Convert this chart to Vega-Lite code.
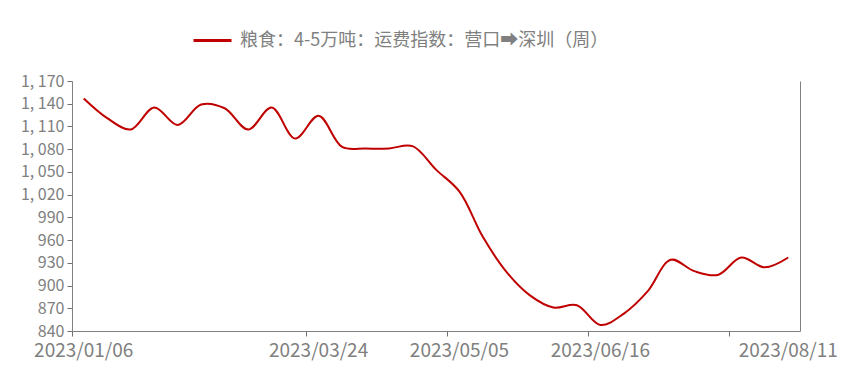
{
  "$schema": "https://vega.github.io/schema/vega-lite/v6.json",
  "width": 728,
  "height": 250,
  "autosize": {"type": "none"},
  "padding": {"left": 72, "top": 81, "right": 45, "bottom": 38},
  "background": "white",
  "config": {"view": {"stroke": null}, "font": "Noto Sans CJK SC"},
  "data": {"values": [
    {"date": "2023/01/06", "value": 1147, "series": "粮食：4-5万吨：运费指数：营口➡深圳（周）"},
    {"date": "2023/01/13", "value": 1121, "series": "粮食：4-5万吨：运费指数：营口➡深圳（周）"},
    {"date": "2023/01/20", "value": 1106, "series": "粮食：4-5万吨：运费指数：营口➡深圳（周）"},
    {"date": "2023/02/03", "value": 1135, "series": "粮食：4-5万吨：运费指数：营口➡深圳（周）"},
    {"date": "2023/02/10", "value": 1112, "series": "粮食：4-5万吨：运费指数：营口➡深圳（周）"},
    {"date": "2023/02/17", "value": 1139, "series": "粮食：4-5万吨：运费指数：营口➡深圳（周）"},
    {"date": "2023/02/24", "value": 1134, "series": "粮食：4-5万吨：运费指数：营口➡深圳（周）"},
    {"date": "2023/03/03", "value": 1106, "series": "粮食：4-5万吨：运费指数：营口➡深圳（周）"},
    {"date": "2023/03/10", "value": 1135, "series": "粮食：4-5万吨：运费指数：营口➡深圳（周）"},
    {"date": "2023/03/17", "value": 1094, "series": "粮食：4-5万吨：运费指数：营口➡深圳（周）"},
    {"date": "2023/03/24", "value": 1124, "series": "粮食：4-5万吨：运费指数：营口➡深圳（周）"},
    {"date": "2023/03/31", "value": 1083, "series": "粮食：4-5万吨：运费指数：营口➡深圳（周）"},
    {"date": "2023/04/07", "value": 1081, "series": "粮食：4-5万吨：运费指数：营口➡深圳（周）"},
    {"date": "2023/04/14", "value": 1081, "series": "粮食：4-5万吨：运费指数：营口➡深圳（周）"},
    {"date": "2023/04/21", "value": 1084, "series": "粮食：4-5万吨：运费指数：营口➡深圳（周）"},
    {"date": "2023/04/28", "value": 1053, "series": "粮食：4-5万吨：运费指数：营口➡深圳（周）"},
    {"date": "2023/05/05", "value": 1024, "series": "粮食：4-5万吨：运费指数：营口➡深圳（周）"},
    {"date": "2023/05/12", "value": 964, "series": "粮食：4-5万吨：运费指数：营口➡深圳（周）"},
    {"date": "2023/05/19", "value": 918, "series": "粮食：4-5万吨：运费指数：营口➡深圳（周）"},
    {"date": "2023/05/26", "value": 887, "series": "粮食：4-5万吨：运费指数：营口➡深圳（周）"},
    {"date": "2023/06/02", "value": 871, "series": "粮食：4-5万吨：运费指数：营口➡深圳（周）"},
    {"date": "2023/06/09", "value": 874, "series": "粮食：4-5万吨：运费指数：营口➡深圳（周）"},
    {"date": "2023/06/16", "value": 848, "series": "粮食：4-5万吨：运费指数：营口➡深圳（周）"},
    {"date": "2023/06/23", "value": 863, "series": "粮食：4-5万吨：运费指数：营口➡深圳（周）"},
    {"date": "2023/06/30", "value": 892, "series": "粮食：4-5万吨：运费指数：营口➡深圳（周）"},
    {"date": "2023/07/07", "value": 934, "series": "粮食：4-5万吨：运费指数：营口➡深圳（周）"},
    {"date": "2023/07/14", "value": 919, "series": "粮食：4-5万吨：运费指数：营口➡深圳（周）"},
    {"date": "2023/07/21", "value": 914, "series": "粮食：4-5万吨：运费指数：营口➡深圳（周）"},
    {"date": "2023/07/28", "value": 937, "series": "粮食：4-5万吨：运费指数：营口➡深圳（周）"},
    {"date": "2023/08/04", "value": 924, "series": "粮食：4-5万吨：运费指数：营口➡深圳（周）"},
    {"date": "2023/08/11", "value": 937, "series": "粮食：4-5万吨：运费指数：营口➡深圳（周）"}
  ]},
  "layer": [
    {
      "mark": {"type": "line", "interpolate": "catmull-rom", "strokeWidth": 2},
      "encoding": {
        "x": {
          "field": "date", "type": "ordinal", "sort": null, "bandPosition": 0.5,
          "scale": {"type": "band", "paddingInner": 0, "paddingOuter": 0},
          "axis": {
            "title": null,
            "values": ["2023/01/06", "2023/03/24", "2023/05/05", "2023/06/16", "2023/07/28", "2023/08/11"],
            "labelExpr": "datum.value == '2023/07/28' ? '' : datum.value",
            "bandPosition": 0,
            "tickExtra": false,
            "tickOpacity": {"condition": {"test": "datum.value == '2023/08/11'", "value": 0}, "value": 1},
            "labelAngle": 0,
            "labelOverlap": false,
            "labelFlush": false,
            "labelBound": false,
            "labelFontSize": 19,
            "labelColor": "#808080",
            "labelPadding": 5,
            "tickSize": 5,
            "tickColor": "#707070",
            "domainColor": "#808080",
            "grid": false
          }
        },
        "y": {
          "field": "value", "type": "quantitative",
          "scale": {"domain": [840, 1170], "nice": false, "zero": false},
          "axis": {
            "title": null,
            "values": [840, 870, 900, 930, 960, 990, 1020, 1050, 1080, 1110, 1140, 1170],
            "labelExpr": "datum.value >= 1000 ? replace(format(datum.value, ','), ',', ', ') : format(datum.value, 'd')",
            "labelFontSize": 16,
            "labelColor": "#808080",
            "labelPadding": 3,
            "tickSize": 5,
            "tickColor": "#707070",
            "domainColor": "#808080",
            "grid": false
          }
        },
        "color": {
          "field": "series", "type": "nominal",
          "scale": {"range": ["#c00000"]},
          "legend": {
            "title": null,
            "orient": "none",
            "legendX": 120,
            "legendY": -61,
            "symbolType": "stroke",
            "symbolSize": 1444,
            "symbolStrokeWidth": 3,
            "labelFontSize": 18,
            "labelColor": "#808080",
            "labelLimit": 700,
            "labelOffset": 7
          }
        }
      }
    },
    {
      "mark": {"type": "line", "strokeOpacity": 0},
      "encoding": {
        "y": {
          "field": "value", "type": "quantitative",
          "scale": {"domain": [840, 1170], "nice": false, "zero": false},
          "axis": {"orient": "right", "title": null, "labels": false, "ticks": false, "grid": false, "domainColor": "#808080"}
        }
      }
    }
  ],
  "resolve": {"scale": {"y": "independent"}}
}
